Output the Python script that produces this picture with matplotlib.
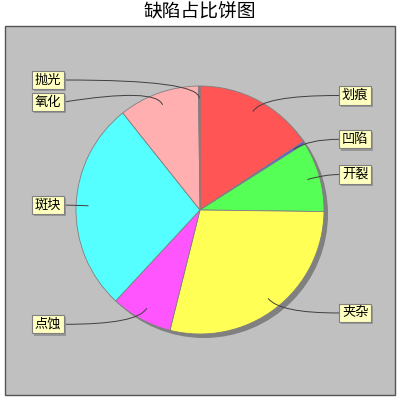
import numpy as np
import matplotlib
matplotlib.use("Agg")
import matplotlib.pyplot as plt
import matplotlib.patheffects as pe
from matplotlib.patches import Rectangle, Circle, PathPatch
from matplotlib.path import Path

plt.rcParams['font.family'] = ['Noto Sans CJK SC', 'DejaVu Sans']

# === data ===
categories = ['划痕', '凹陷', '开裂', '夹杂', '点蚀', '斑块', '氧化', '抛光']
counts = [157, 3, 92, 287, 80, 274, 105, 2]
colors = ['#FF5555', '#5555FF', '#55FF55', '#FFFF55', '#FF55FF', '#55FFFF', '#FFAFAF', '#808080']
title = '缺陷占比饼图'

# === layout (pixel coords, y up) ===
cx, cy, R = 200, 190, 124
label_r = 130
gap = 22

fig = plt.figure(figsize=(4, 4), dpi=100)
ax = fig.add_axes([0, 0, 1, 1])

ax.add_patch(Rectangle((5, 5), 390, 369, facecolor='#C0C0C0', edgecolor='#555555', lw=1, zorder=0))
ax.add_patch(Circle((cx + 4, cy - 4), R, facecolor='#808080', edgecolor='none', zorder=1))

wedges, _ = ax.pie(counts, colors=colors, startangle=90, counterclock=False,
                   center=(cx, cy), radius=R,
                   wedgeprops=dict(edgecolor='#808080', linewidth=0.6))
for w in wedges:
    w.set_zorder(2)

vals = np.array(counts, dtype=float)
ends = np.cumsum(vals) / vals.sum() * 360
starts = ends - vals / vals.sum() * 360
mids = np.radians((starts + ends) / 2)

# label positions, then push apart on each side
label_y = cy + np.cos(mids) * label_r
right = np.sin(mids) >= 0
for side in (True, False):
    idx = [i for i in range(len(categories)) if right[i] == side]
    idx.sort(key=lambda i: -label_y[i])
    for a, b in zip(idx, idx[1:]):
        if label_y[a] - label_y[b] < gap:
            label_y[b] = label_y[a] - gap

for i, name in enumerate(categories):
    th = mids[i]
    ax0 = cx + 0.9 * R * np.sin(th)
    ay0 = cy + 0.9 * R * np.cos(th)
    kx = cx + 1.05 * R * np.sin(th)
    ky = cy + 1.05 * R * np.cos(th)
    ly = label_y[i]
    if right[i]:
        ex, tx, ha = 339, 342, 'left'
    else:
        ex, tx, ha = 64, 61, 'right'
    path = Path([(ax0, ay0), (kx, ky), (ex, ly)], [Path.MOVETO, Path.CURVE3, Path.CURVE3])
    ax.add_patch(PathPatch(path, facecolor='none', edgecolor='#404040', lw=0.7, zorder=3))
    t = ax.text(tx, ly, name, ha=ha, va='center', fontsize=9.5, color='black',
                bbox=dict(boxstyle='square,pad=0.2', fc='#FFFFC0', ec='#808080', lw=0.8), zorder=5)
    t.get_bbox_patch().set_path_effects([
        pe.SimplePatchShadow(offset=(1.5, -1.5), shadow_rgbFace='#979797', alpha=1.0),
        pe.Normal()])

ax.text(200, 388, title, ha='center', va='center', fontsize=13.5)

ax.set_xlim(0, 400)
ax.set_ylim(0, 400)
ax.set_aspect('auto')
ax.axis('off')
fig.savefig('out.png', dpi=100, facecolor='white')
